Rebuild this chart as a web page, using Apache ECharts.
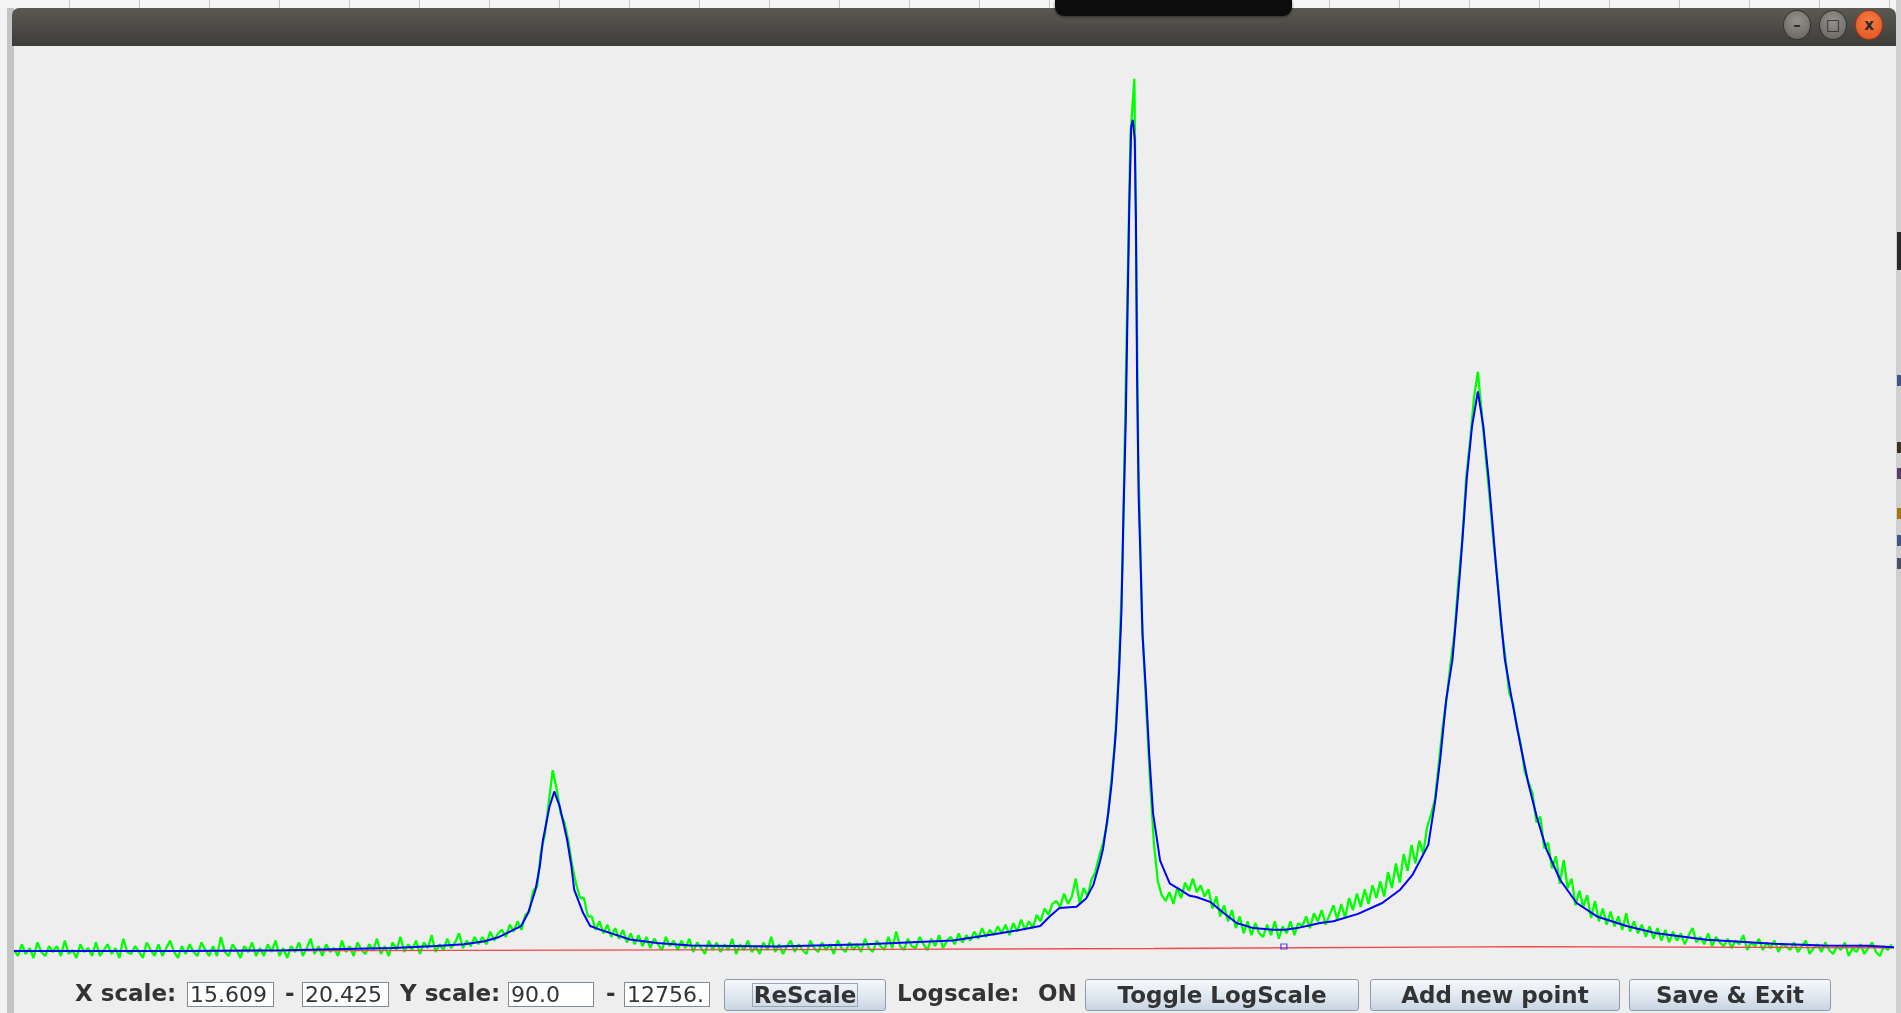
<!DOCTYPE html>
<html>
<head>
<meta charset="utf-8">
<script src="https://cdn.jsdelivr.net/npm/echarts@6/dist/echarts.min.js"></script>
<style>
  html, body { margin: 0; padding: 0; width: 1901px; height: 1013px; overflow: hidden; background: #f3f3f3; }
  .abs { position: absolute; }
  #ticks { left: 0; top: 0; width: 1901px; height: 9px; background: #f5f5f5;
    background-image: repeating-linear-gradient(to right, transparent 0 69px, #c4c4c4 69px 70px); }
  #leftEdge { left: 7px; top: 8px; width: 7px; height: 1005px; background: #c4c4c4; }
  #rightEdge { left: 1896px; top: 0; width: 5px; height: 1013px; background: #cfcfcf; }
  #titlebar { left: 12px; top: 8px; width: 1884px; height: 38px; border-radius: 7px 7px 0 0;
    background: linear-gradient(#5c5954, #3d3c38); }
  #pill { left: 1055px; top: 0; width: 237px; height: 16px; background: #0c0c0c; border-radius: 0 0 9px 9px;
    box-shadow: 0 1px 3px rgba(0,0,0,0.5); }
  .wbtn { top: 10px; width: 28px; height: 30px; border-radius: 50%; box-sizing: border-box;
    border: 1px solid #353431; background: radial-gradient(circle at 50% 35%, #94928d, #63615c);
    color: #2b2b2b; font: bold 15px 'DejaVu Sans'; text-align: center; line-height: 28px; }
  #content { left: 14px; top: 46px; width: 1882px; height: 967px; background: #eeeeee; }
  #chart { left: 0; top: 0; width: 1901px; height: 1013px; }
  .lbl { top: 980px; height: 30px; line-height: 30px; font: bold 23px 'DejaVu Sans'; color: #333333; white-space: nowrap; }
  .box { top: 982px; height: 25px; box-sizing: border-box; border: 1px solid #7d8b99; background: #ffffff;
    font: 22px 'DejaVu Sans'; color: #333333; line-height: 23px; padding-left: 2px; overflow: hidden; white-space: nowrap; }
  .btn { top: 979px; height: 32px; box-sizing: border-box; border: 1px solid #8f9bab; border-radius: 3px;
    background: linear-gradient(#f6f8fb, #dfe7f0 55%, #c8d4e2); font: bold 23px 'DejaVu Sans'; color: #333333;
    text-align: center; line-height: 30px; white-space: nowrap; }
  #focus { left: 752px; top: 983px; width: 106px; height: 24px; box-sizing: border-box; border: 1px solid #9aa6b4; }
</style>
</head>
<body>
<div id="ticks" class="abs"></div>
<div id="leftEdge" class="abs"></div>
<div id="titlebar" class="abs"></div>
<div id="pill" class="abs"></div>
<div class="abs wbtn" style="left:1783px">&#8211;</div>
<div class="abs wbtn" style="left:1819px">&#9633;</div>
<div class="abs wbtn" style="left:1855px;background:radial-gradient(circle at 50% 35%, #f57a45, #e2531c);border-color:#9b3a14;">x</div>
<div id="content" class="abs"></div>
<div id="rightEdge" class="abs"></div>
<div class="abs" style="left:1897px;top:232px;width:4px;height:38px;background:#2a2a2a"></div>
<div class="abs" style="left:1897px;top:375px;width:4px;height:11px;background:#3d5a86"></div>
<div class="abs" style="left:1897px;top:442px;width:4px;height:11px;background:#3b3320"></div>
<div class="abs" style="left:1897px;top:468px;width:4px;height:11px;background:#5b3d6b"></div>
<div class="abs" style="left:1897px;top:508px;width:4px;height:11px;background:#a07a10"></div>
<div class="abs" style="left:1897px;top:535px;width:4px;height:11px;background:#3d5a86"></div>
<div class="abs" style="left:1897px;top:558px;width:4px;height:11px;background:#4a4f66"></div>

<div id="chart" class="abs"></div>

<div class="abs lbl" style="left:75px">X scale:</div>
<div class="abs box" style="left:187px;width:87px">15.609</div>
<div class="abs lbl" style="left:285px">-</div>
<div class="abs box" style="left:302px;width:87px">20.425</div>
<div class="abs lbl" style="left:400px">Y scale:</div>
<div class="abs box" style="left:508px;width:86px">90.0</div>
<div class="abs lbl" style="left:606px">-</div>
<div class="abs box" style="left:624px;width:86px">12756.</div>
<div class="abs btn" style="left:724px;width:162px">ReScale</div>
<div id="focus" class="abs"></div>
<div class="abs lbl" style="left:897px">Logscale:</div>
<div class="abs lbl" style="left:1038px">ON</div>
<div class="abs btn" style="left:1085px;width:274px">Toggle LogScale</div>
<div class="abs btn" style="left:1370px;width:250px">Add new point</div>
<div class="abs btn" style="left:1629px;width:202px">Save &amp; Exit</div>

<script>
// axis range shown in the scale boxes
var xMin = 15.609, xMax = 20.425;
var yMin = 90, yMax = 12756;

// measured counts, one every 0.01 starting at xMin
var greenStart = 15.609;
var greenStep = 0.01;
var greenCounts = [
    95, 92, 98, 93, 96, 91, 99, 94, 92, 97,
    94, 97, 92, 100, 93, 95, 91, 98, 94, 96,
    92, 99, 92, 95, 98, 93, 96, 91, 101, 94,
    93, 97, 94, 91, 99, 95, 92, 98, 92, 96,
    100, 94, 91, 97, 93, 98, 94, 92, 99, 95,
    92, 97, 92, 102, 94, 92, 98, 95, 91, 97,
    94, 99, 92, 96, 92, 98, 94, 100, 92, 96,
    91, 97, 94, 99, 92, 96, 101, 93, 97, 92,
    98, 94, 96, 92, 100, 94, 97, 92, 99, 95,
    93, 98, 95, 101, 93, 97, 92, 99, 95, 102,
    94, 98, 95, 100, 93, 99, 96, 103, 94, 98,
    95, 101, 96, 99, 104, 96, 100, 97, 102, 98,
    102, 98, 105, 100, 104, 106, 102, 109, 105, 111,
    106, 115, 117, 131, 134, 162, 178, 212, 252, 228,
    200, 190, 172, 150, 136, 126, 126, 114, 114, 106,
    111, 104, 109, 102, 107, 101, 106, 99, 104, 98,
    103, 97, 102, 96, 101, 98, 95, 102, 97, 100,
    95, 100, 96, 101, 94, 99, 96, 93, 100, 95,
    99, 94, 98, 95, 101, 93, 98, 95, 100, 94,
    97, 93, 99, 95, 102, 94, 98, 93, 97, 100,
    94, 98, 95, 93, 100, 96, 94, 99, 95, 98,
    93, 100, 96, 94, 99, 95, 98, 94, 101, 96,
    94, 100, 97, 95, 102, 96, 105, 97, 95, 101,
    97, 96, 102, 98, 95, 101, 97, 103, 96, 100,
    102, 98, 104, 99, 103, 100, 105, 101, 107, 102,
    106, 103, 108, 104, 109, 103, 110, 105, 112, 106,
    111, 107, 115, 111, 119, 115, 122, 124, 120, 129,
    122, 127, 140, 122, 133, 127, 139, 145, 158, 170,
    188, 233, 290, 430, 780, 2600, 7900, 10737, 1400, 560,
    360, 240, 170, 138, 128, 124, 130, 122, 133, 126,
    137, 131, 140, 130, 135, 127, 132, 119, 127, 114,
    121, 111, 118, 107, 114, 104, 111, 103, 110, 104,
    102, 109, 103, 111, 101, 108, 104, 111, 103, 110,
    108, 114, 107, 116, 111, 118, 109, 115, 121, 112,
    122, 113, 126, 118, 129, 120, 132, 122, 135, 126,
    138, 127, 145, 133, 152, 137, 160, 146, 168, 152,
    172, 160, 185, 198, 215, 262, 320, 372, 450, 530,
    700, 880, 1230, 1500, 1900, 2190, 1750, 1380, 1110, 870,
    715, 548, 470, 385, 362, 318, 290, 250, 236, 222,
    190, 196, 165, 170, 148, 158, 136, 155, 133, 140,
    121, 131, 120, 128, 113, 124, 111, 119, 109, 117,
    108, 114, 106, 116, 105, 111, 104, 109, 102, 108,
    101, 107, 100, 106, 99, 105, 100, 104, 98, 103,
    107, 99, 102, 98, 104, 97, 102, 99, 97, 101,
    96, 100, 98, 103, 95, 99, 97, 101, 95, 99,
    96, 100, 94, 98, 97, 95, 99, 94, 97, 100,
    93, 96, 98, 94, 99, 95, 93, 97, 95, 99,
    92, 96, 94, 98, 93, 96, 99, 94, 92, 97,
    95, 98
];

// fitted curve (blue)
var fitX = [15.609, 16.038, 16.305, 16.578, 16.690, 16.762, 16.815, 16.852, 16.883, 16.908,
    16.926, 16.945, 16.956, 16.964, 16.981, 16.993, 17.007, 17.026, 17.037, 17.044,
    17.067, 17.085, 17.110, 17.187, 17.256, 17.343, 17.560, 17.793, 18.014, 18.073,
    18.135, 18.188, 18.238, 18.262, 18.287, 18.331, 18.356, 18.374, 18.390, 18.399,
    18.412, 18.421, 18.432, 18.440, 18.446, 18.450, 18.457, 18.461, 18.466, 18.471,
    18.475, 18.480, 18.483, 18.486, 18.490, 18.495, 18.500, 18.509, 18.517, 18.527,
    18.545, 18.562, 18.570, 18.596, 18.621, 18.638, 18.673, 18.707, 18.741, 18.784,
    18.834, 18.865, 18.896, 18.955, 18.989, 19.052, 19.114, 19.160, 19.191, 19.232,
    19.250, 19.263, 19.278, 19.294, 19.303, 19.313, 19.322, 19.331, 19.344, 19.359,
    19.373, 19.386, 19.397, 19.407, 19.418, 19.428, 19.446, 19.467, 19.488, 19.510,
    19.535, 19.570, 19.612, 19.664, 19.740, 19.817, 19.945, 20.116, 20.244, 20.357,
    20.425];
var fitY = [94.5, 94.5, 94.9, 96.1, 97.1, 98.0, 99.6, 102.0, 105.4, 108.2,
    116.1, 131.8, 149.6, 172.6, 207.1, 224.6, 207.1, 172.6, 149.6, 131.8,
    116.1, 108.2, 106.1, 100.6, 98.7, 97.4, 96.8, 98.0, 100.0, 102.0,
    104.0, 106.1, 108.2, 114.0, 119.4, 120.2, 125.9, 135.3, 152.3, 164.9,
    199.5, 235.2, 314.1, 433.6, 598.6, 911.9, 1681.6, 2828, 5387, 8262,
    8589, 7736, 5045, 2117, 1111, 773.7, 524.7, 382.7, 275.4, 199.5,
    154.4, 141.7, 136.2, 131.8, 127.5, 126.7, 123.4, 116.3, 110.0, 107.0,
    106.1, 106.1, 107.0, 110.0, 111.1, 115.6, 122.6, 131.8, 142.6, 168.1,
    214.5, 270.0, 370.3, 460.1, 571.6, 734.0, 948.6, 1242, 1627, 1969,
    1627, 1242, 948.6, 734.0, 571.6, 460.1, 370.3, 292.2, 235.2, 195.6,
    163.8, 138.9, 122.6, 114.0, 108.2, 104.0, 100.4, 98.3, 97.4, 97.2,
    96.5];

// background line (red)
var baseX = [15.609, 17.6, 18.53, 18.531, 19.48, 19.481, 20.425];
var baseY = [94.3, 95.2, 95.8, 96.8, 96.8, 96.2, 96.2];

// selected point marker
var pointX = [18.862];
var pointY = [96.8];

function pairs(xs, ys) {
    return xs.map(function (x, i) { return [x, ys[i]]; });
}

var greenData = greenCounts.map(function (v, i) {
    return [greenStart + i * greenStep, v];
});

var option = {
    animation: false,
    backgroundColor: 'transparent',
    grid: {
        left: 14,
        right: 7,
        top: 47,
        bottom: 53,
        containLabel: false
    },
    xAxis: {
        type: 'value',
        min: xMin,
        max: xMax,
        show: false
    },
    yAxis: {
        type: 'log',
        logBase: 10,
        min: yMin,
        max: yMax,
        show: false
    },
    series: [
        {
            type: 'line',
            data: greenData,
            symbol: 'none',
            z: 2,
            lineStyle: { color: '#00ff00', width: 2.3 }
        },
        {
            type: 'line',
            data: pairs(baseX, baseY),
            symbol: 'none',
            z: 3,
            lineStyle: { color: '#f04848', width: 1.4 }
        },
        {
            type: 'line',
            data: pairs(fitX, fitY),
            symbol: 'none',
            z: 4,
            lineStyle: { color: '#0000ff', width: 2 }
        },
        {
            type: 'scatter',
            data: pairs(pointX, pointY),
            symbol: 'rect',
            symbolSize: [6, 5],
            z: 5,
            itemStyle: { color: 'rgba(0,0,0,0)', borderColor: '#2a2aff', borderWidth: 1.2 }
        }
    ]
};

var myChart = echarts.init(document.getElementById('chart'));
myChart.setOption(option, true);
</script>
</body>
</html>
